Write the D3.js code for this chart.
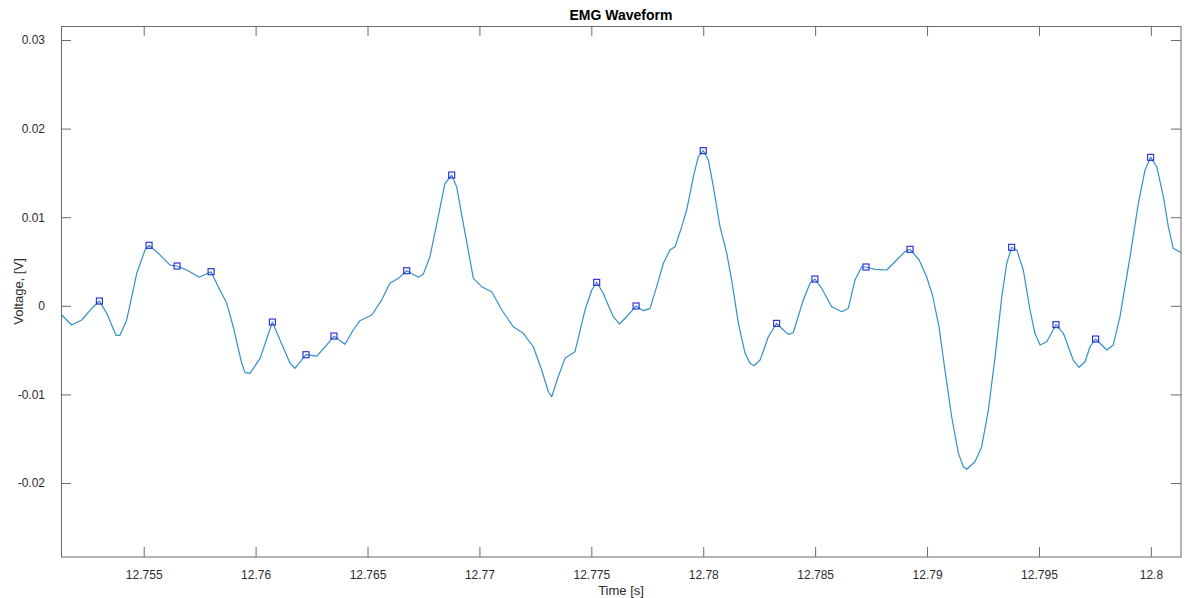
<!DOCTYPE html>
<html>
<head>
<meta charset="utf-8">
<script src="https://cdn.jsdelivr.net/npm/d3@7"></script>
<style>
  body { margin: 0; background: #fff; }
  svg { display: block; font-family: "Liberation Sans", Arial, sans-serif; }
</style>
</head>
<body>
<svg id="chart" width="1185" height="598"></svg>
<script>
// trace (time in s, voltage in V)
const time = [
  12.75134, 12.75178, 12.75223, 12.75268, 12.75302, 12.75335, 12.75376, 12.75394, 12.75424, 12.75469,
  12.75506, 12.75524, 12.75565, 12.75618, 12.75649, 12.75692, 12.75748, 12.75801, 12.75833, 12.75871,
  12.75900, 12.75938, 12.75953, 12.75975, 12.76020, 12.76075, 12.76109, 12.76154, 12.76176, 12.76225,
  12.76273, 12.76318, 12.76350, 12.76399, 12.76436, 12.76466, 12.76519, 12.76563, 12.76600, 12.76638,
  12.76675, 12.76727, 12.76749, 12.76779, 12.76816, 12.76846, 12.76876, 12.76898, 12.76936, 12.76973,
  12.77010, 12.77055, 12.77100, 12.77151, 12.77196, 12.77241, 12.77278, 12.77308, 12.77323, 12.77352,
  12.77382, 12.77427, 12.77472, 12.77502, 12.77524, 12.77553, 12.77598, 12.77625, 12.77658, 12.77700,
  12.77732, 12.77762, 12.77792, 12.77822, 12.77851, 12.77874, 12.77904, 12.77926, 12.77956, 12.77978,
  12.78000, 12.78023, 12.78045, 12.78075, 12.78105, 12.78127, 12.78157, 12.78187, 12.78209, 12.78227,
  12.78254, 12.78291, 12.78328, 12.78358, 12.78380, 12.78402, 12.78447, 12.78477, 12.78499, 12.78529,
  12.78574, 12.78619, 12.78648, 12.78678, 12.78708, 12.78727, 12.78767, 12.78820, 12.78864, 12.78901,
  12.78924, 12.78964, 12.78998, 12.79024, 12.79053, 12.79080, 12.79110, 12.79140, 12.79162, 12.79177,
  12.79214, 12.79244, 12.79274, 12.79304, 12.79334, 12.79356, 12.79378, 12.79401, 12.79430, 12.79460,
  12.79482, 12.79505, 12.79535, 12.79576, 12.79609, 12.79653, 12.79679, 12.79706, 12.79728, 12.79753,
  12.79773, 12.79803, 12.79832, 12.79862, 12.79907, 12.79944, 12.79974, 12.79999, 12.80026, 12.80056,
  12.80078, 12.80100, 12.80135
];
const voltage = [
  -0.00104, -0.00217, -0.00160, -0.00028, 0.00054, -0.00085, -0.00333, -0.00333, -0.00160, 0.00367,
  0.00630, 0.00683, 0.00593, 0.00460, 0.00449, 0.00404, 0.00322, 0.00385, 0.00216, 0.00028,
  -0.00236, -0.00649, -0.00755, -0.00762, -0.00593, -0.00183, -0.00386, -0.00649, -0.00705, -0.00552,
  -0.00567, -0.00442, -0.00341, -0.00435, -0.00273, -0.00168, -0.00104, 0.00065, 0.00254, 0.00310,
  0.00396, 0.00322, 0.00356, 0.00554, 0.01006, 0.01383, 0.01476, 0.01344, 0.00818, 0.00310,
  0.00216, 0.00159, -0.00047, -0.00236, -0.00310, -0.00462, -0.00725, -0.00970, -0.01026, -0.00800,
  -0.00593, -0.00518, -0.00047, 0.00178, 0.00265, 0.00141, -0.00123, -0.00205, -0.00123, -0.00002,
  -0.00055, -0.00032, 0.00216, 0.00480, 0.00630, 0.00667, 0.00893, 0.01081, 0.01457, 0.01683,
  0.01751, 0.01646, 0.01344, 0.00893, 0.00593, 0.00291, -0.00198, -0.00536, -0.00649, -0.00676,
  -0.00612, -0.00349, -0.00198, -0.00273, -0.00322, -0.00304, 0.00065, 0.00254, 0.00302, 0.00198,
  -0.00010, -0.00067, -0.00028, 0.00291, 0.00441, 0.00438, 0.00412, 0.00404, 0.00517, 0.00611,
  0.00638, 0.00520, 0.00328, 0.00122, -0.00228, -0.00725, -0.01252, -0.01665, -0.01816, -0.01845,
  -0.01760, -0.01590, -0.01176, -0.00574, 0.00103, 0.00480, 0.00660, 0.00630, 0.00404, -0.00047,
  -0.00310, -0.00442, -0.00405, -0.00213, -0.00310, -0.00612, -0.00694, -0.00631, -0.00462, -0.00375,
  -0.00423, -0.00499, -0.00442, -0.00123, 0.00554, 0.01157, 0.01533, 0.01676, 0.01570, 0.01231,
  0.00893, 0.00649, 0.00599
];

// detected peaks (square markers)
const peakTime = [
  12.75302, 12.75524, 12.75649, 12.75801, 12.76075, 12.76225, 12.76350, 12.76675, 12.76876, 12.77524,
  12.77700, 12.78000, 12.78328, 12.78499, 12.78727, 12.78924, 12.79378, 12.79576, 12.79753, 12.79999
];
const peakVolt = [
  0.00054, 0.00683, 0.00449, 0.00385, -0.00183, -0.00552, -0.00341, 0.00396, 0.01476, 0.00265,
  -0.00002, 0.01751, -0.00198, 0.00302, 0.00438, 0.00638, 0.00660, -0.00213, -0.00375, 0.01676
];

const xTicks = [12.755, 12.76, 12.765, 12.77, 12.775, 12.78, 12.785, 12.79, 12.795, 12.8];
const xTickLabels = ["12.755", "12.76", "12.765", "12.77", "12.775", "12.78", "12.785", "12.79", "12.795", "12.8"];
const yTicks = [0.03, 0.02, 0.01, 0, -0.01, -0.02];
const yTickLabels = ["0.03", "0.02", "0.01", "0", "-0.01", "-0.02"];

const xLimits = [12.751305, 12.801346];
const yLimits = [-0.02835, 0.03158];

const margin = { left: 61, right: 4, top: 26, bottom: 41 };
const width = 1185, height = 598;
const innerW = width - margin.left - margin.right;
const innerH = height - margin.top - margin.bottom;

const axisColor = "#6b6b6b";
const textColor = "#2b2b2b";

const svg = d3.select("#chart");
const g = svg.append("g").attr("transform", `translate(${margin.left},${margin.top})`);

const x = d3.scaleLinear().domain(xLimits).range([0, innerW]);
const y = d3.scaleLinear().domain(yLimits).range([innerH, 0]);

const points = time.map((t, i) => ({ t, v: voltage[i] }));
const peaks = peakTime.map((t, i) => ({ t, v: peakVolt[i] }));

// clip to the axes box
g.append("clipPath").attr("id", "box")
  .append("rect").attr("width", innerW).attr("height", innerH);

const plot = g.append("g").attr("clip-path", "url(#box)");

plot.append("path")
  .datum(points)
  .attr("fill", "none")
  .attr("stroke", "#3590c8")
  .attr("stroke-width", 1.2)
  .attr("stroke-linejoin", "round")
  .attr("d", d3.line().x(d => x(d.t)).y(d => y(d.v)));

const ms = 6;
plot.selectAll("rect.peak")
  .data(peaks)
  .enter()
  .append("rect")
  .attr("class", "peak")
  .attr("x", d => x(d.t) - ms / 2)
  .attr("y", d => y(d.v) - ms / 2)
  .attr("width", ms)
  .attr("height", ms)
  .attr("fill", "none")
  .attr("stroke", "#2323d6")
  .attr("stroke-width", 1.1);

// MATLAB-style box with inward ticks on all four sides
const tickLen = 10;

function styleAxis(sel) {
  sel.select(".domain").remove();
  sel.selectAll(".tick line").attr("stroke", axisColor);
  sel.selectAll(".tick text")
    .attr("fill", textColor)
    .style("font-size", "12px");
}

const xBottom = g.append("g")
  .attr("transform", `translate(0,${innerH})`)
  .call(d3.axisBottom(x).tickValues(xTicks)
    .tickFormat((d, i) => xTickLabels[i])
    .tickSizeInner(-tickLen).tickPadding(13));
styleAxis(xBottom);

const xTop = g.append("g")
  .call(d3.axisTop(x).tickValues(xTicks).tickFormat("").tickSizeInner(-tickLen));
styleAxis(xTop);

const yLeft = g.append("g")
  .call(d3.axisLeft(y).tickValues(yTicks)
    .tickFormat((d, i) => yTickLabels[i])
    .tickSizeInner(-tickLen).tickPadding(16));
styleAxis(yLeft);

const yRight = g.append("g")
  .attr("transform", `translate(${innerW},0)`)
  .call(d3.axisRight(y).tickValues(yTicks).tickFormat("").tickSizeInner(-tickLen));
styleAxis(yRight);

g.append("rect")
  .attr("x", 0.5).attr("y", 0.5)
  .attr("width", innerW - 0.5).attr("height", innerH - 0.5)
  .attr("fill", "none")
  .attr("stroke", axisColor)
  .attr("stroke-width", 1);

// title and axis labels
svg.append("text")
  .attr("x", margin.left + innerW / 2)
  .attr("y", 20)
  .attr("text-anchor", "middle")
  .attr("fill", "#000")
  .style("font-size", "14px")
  .style("font-weight", "bold")
  .text("EMG Waveform");

svg.append("text")
  .attr("x", margin.left + innerW / 2)
  .attr("y", 595)
  .attr("text-anchor", "middle")
  .attr("fill", textColor)
  .style("font-size", "13px")
  .text("Time [s]");

svg.append("text")
  .attr("transform", `translate(23,${margin.top + innerH / 2}) rotate(-90)`)
  .attr("text-anchor", "middle")
  .attr("fill", textColor)
  .style("font-size", "13px")
  .text("Voltage, [V]");
</script>
</body>
</html>
